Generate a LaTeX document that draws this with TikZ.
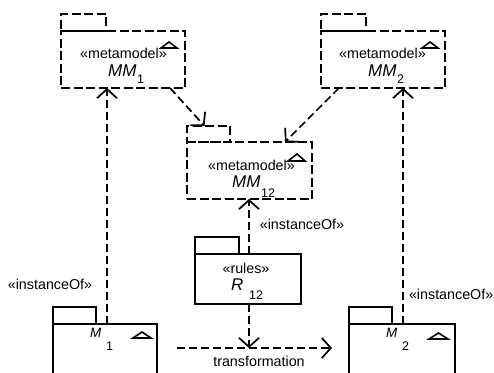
\documentclass[tikz,border=0pt]{standalone}
\usepackage{fontspec}
\setmainfont{Liberation Sans}
\usetikzlibrary{arrows.meta,calc}
\begin{document}
\begin{tikzpicture}[x=1pt,y=-1pt,
 lw/.style={line width=1.7pt},
 pkgd/.style={draw,lw,dash pattern=on 9pt off 3.5pt,inner sep=0,outer sep=0},
 pkgs/.style={draw,lw,inner sep=0,outer sep=0},
 txt/.style={font=\fontsize{14.3}{16}\selectfont,inner sep=0},
 nm/.style={font=\fontsize{17}{19}\selectfont\itshape,inner sep=0,anchor=base west},
 nms/.style={font=\fontsize{13.5}{15}\selectfont\itshape,inner sep=0,anchor=base west},
 sb/.style={font=\fontsize{12.5}{14}\selectfont,inner sep=0,anchor=base west},
 dep/.style={lw,dash pattern=on 8pt off 4pt,-{Straight Barb[length=9pt,width=20pt]}},
 tri/.style={line width=1.6pt,line join=miter}]
\useasboundingbox (0,0) rectangle (494,372);
\clip (0,0) rectangle (494,372);
% MM1
\node[pkgd,minimum width=124pt,minimum height=57pt] (MM1) at (123,59.5) {};
\node[pkgd,minimum width=45pt,minimum height=17pt] (MM1tab) at (83.5,22.5) {};
\node[txt] (MM1st) at (123.5,53) {«metamodel»};
\node[nm] (MM1nm) at (108,76) {MM};
\node[sb] (MM1sb) at (137,83) {1};
\draw[tri] ($(MM1.north east)+(-24,17)$) -- ($(MM1.north east)+(-8,17)$) -- ($(MM1.north east)+(-16,11)$) -- cycle;
% MM2
\node[pkgd,minimum width=124pt,minimum height=57pt] (MM2) at (383,59.5) {};
\node[pkgd,minimum width=45pt,minimum height=17pt] (MM2tab) at (343.5,22.5) {};
\node[txt] (MM2st) at (382.5,53) {«metamodel»};
\node[nm] (MM2nm) at (368,76) {MM};
\node[sb] (MM2sb) at (397,83) {2};
\draw[tri] ($(MM2.north east)+(-23,17)$) -- ($(MM2.north east)+(-7,17)$) -- ($(MM2.north east)+(-15,11)$) -- cycle;
% MM12
\node[pkgd,minimum width=125pt,minimum height=57pt] (MM12) at (249.5,170.5) {};
\node[pkgd,minimum width=43pt,minimum height=16pt] (MM12tab) at (208.5,134) {};
\node[txt] (MM12st) at (251.5,165) {«metamodel»};
\node[nm] (MM12nm) at (232,187) {MM};
\node[sb] (MM12sb) at (261,197) {12};
\draw[tri] ($(MM12.north east)+(-24,19)$) -- ($(MM12.north east)+(-7,19)$) -- ($(MM12.north east)+(-15,12)$) -- cycle;
% R12
\node[pkgs,minimum width=106pt,minimum height=50pt] (R12) at (248,279) {};
\node[pkgs,minimum width=44pt,minimum height=17pt] (R12tab) at (217,245.5) {};
\node[txt] (R12st) at (246,268) {«rules»};
\node[nm] (R12nm) at (231,290) {R};
\node[sb] (R12sb) at (249,299) {12};
% M1
\node[pkgs,minimum width=104pt,minimum height=66pt] (M1) at (105,357) {};
\node[pkgs,minimum width=43pt,minimum height=17pt] (M1tab) at (74.5,315.5) {};
\node[nms] (M1nm) at (90,337) {M};
\node[sb] (M1sb) at (106,350) {1};
\draw[tri] ($(M1.north east)+(-24,14)$) -- ($(M1.north east)+(-6,14)$) -- ($(M1.north east)+(-15,8)$) -- cycle;
% M2
\node[pkgs,minimum width=106pt,minimum height=66pt] (M2) at (402,357) {};
\node[pkgs,minimum width=43pt,minimum height=17pt] (M2tab) at (370.5,315.5) {};
\node[nms] (M2nm) at (386,337) {M};
\node[sb] (M2sb) at (402,350) {2};
\draw[tri] ($(M2.north east)+(-26,15)$) -- ($(M2.north east)+(-7,15)$) -- ($(M2.north east)+(-16.5,9)$) -- cycle;
% labels
\node[txt] (io1) at (50,284) {«instanceOf»};
\node[txt] (io2) at (302,224) {«instanceOf»};
\node[txt,anchor=east] (io3) at (493.5,294) {«instanceOf»};
\node[txt] (trl) at (259,361) {transformation};
% connectors
\coordinate (ts) at (177,348);
\coordinate (te) at (332,348);
\coordinate (tm) at (249,348);
\draw[dep] ($(M1.north)+(2,0)$) -- ($(MM1.south)+(-16,0)$);
\draw[dep] ($(M2.north)+(1,0)$) -- ($(MM2.south)+(20,0)$);
\draw[dep] ($(R12.north)+(1,0)$) -- ($(MM12.south)+(-0.5,0)$);
\draw[dep] ($(MM1.south east)+(-15,0)$) -- ($(MM12tab.north)+(-4,0)$);
\draw[dep] ($(MM2.south west)+(18,0)$) -- ($(MM12.north east)+(-27,0)$);
\draw[dep] (ts) -- (te);
\draw[dep] ($(R12.south)+(1,0)$) -- (tm);
\end{tikzpicture}
\end{document}
